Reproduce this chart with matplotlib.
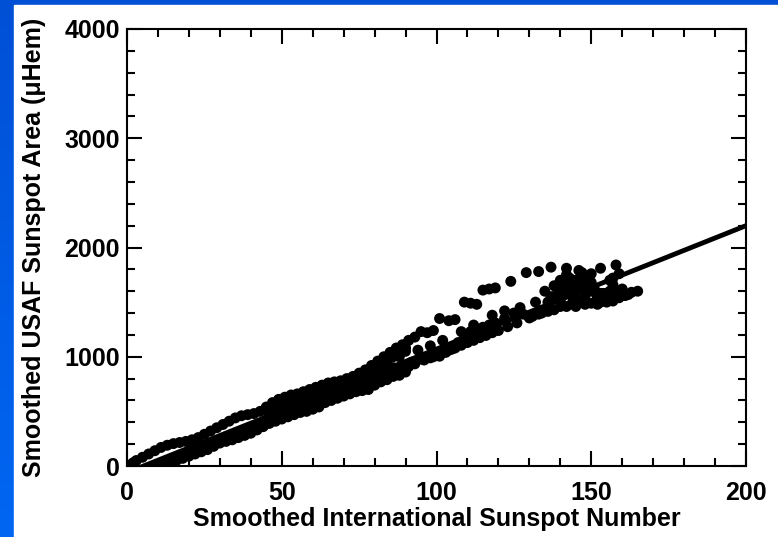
import numpy as np
import matplotlib.pyplot as plt

# Ascending branch (upper arm of the loop)
x_up = [1, 2, 3, 5, 7, 9, 11, 13, 15, 17, 19, 21, 23, 25, 27, 29, 31, 33, 35, 37,
        39, 41, 43, 45, 47, 49, 51, 53, 55, 57, 59, 61, 63, 65, 67, 69, 71, 73, 75,
        77, 79, 81, 83, 85, 87, 89, 91, 93, 95, 97, 99, 101, 104, 106, 109, 111,
        113, 115, 117, 119, 124, 129, 133, 137, 142, 146, 153, 158]
y_up = [10, 30, 50, 80, 110, 140, 170, 190, 205, 215, 225, 240, 260, 290, 320, 350,
        380, 410, 440, 460, 470, 480, 500, 540, 580, 610, 630, 650, 660, 680, 700,
        720, 740, 760, 770, 780, 800, 820, 850, 880, 920, 960, 1000, 1040, 1080,
        1110, 1150, 1180, 1230, 1220, 1240, 1350, 1330, 1340, 1500, 1490, 1480,
        1610, 1620, 1630, 1690, 1770, 1780, 1820, 1810, 1790, 1810, 1840]

# second row of points inside the upper arm
x_up2 = [46, 48, 50, 52, 54, 56, 58, 60, 62, 64, 66, 68, 70, 72, 74, 76,
         78, 80, 82, 84, 86, 88, 90]
y_up2 = [500, 540, 580, 600, 610, 630, 650, 660, 680,
         700, 720, 740, 750, 770, 790, 820, 850, 880, 920, 960, 1000, 1040, 1080]

# Descending branch (lower arm of the loop)
x_dn = [165, 163, 161, 159, 157, 155, 153, 150, 148, 145, 142, 140, 138, 136, 133,
        131, 128, 125, 122, 119, 117, 115, 113, 111, 109, 107, 105, 103, 101, 99,
        97, 95, 92, 90, 88, 86, 84, 82, 80, 78, 76, 74, 72, 70, 68, 66, 64, 62,
        60, 58, 56, 54, 52, 50, 48, 46, 44, 42, 40, 38, 36, 34, 32, 30, 28, 26,
        24, 22, 20, 18, 16, 14, 12, 10]
y_dn = [1600, 1590, 1560, 1540, 1510, 1500, 1500, 1490, 1480, 1460, 1460, 1460,
        1430, 1415, 1390, 1370, 1390, 1400, 1350, 1310, 1290, 1270, 1250, 1230,
        1180, 1130, 1070, 1040, 1005, 1000, 1000, 980, 950, 860, 830, 820, 790,
        770, 740, 700, 690, 680, 660, 640, 620, 600, 580, 540, 520, 500, 490,
        470, 450, 430, 410, 390, 360, 330, 300, 280, 260, 240, 225, 210, 180,
        150, 130, 110, 90, 70, 50, 30, 15, 5]

# points lying just under the fit line
x_dn2 = [11, 13, 15, 17, 19, 21, 23, 25, 27, 29, 31, 33, 35, 37, 39, 41, 43,
         45, 47, 49, 51, 53, 55, 57, 59, 61, 63, 65, 67, 69, 71, 73, 75, 77, 79,
         81, 83, 85, 87, 89, 91, 93, 96, 98, 100, 102, 104, 106, 108, 110, 112,
         114, 116, 118, 120, 123, 126, 130, 134]
y_dn2 = [10, 30, 55, 80, 100, 120, 145, 170, 190, 210, 235, 260, 280, 300, 330,
         350, 370, 390, 415, 440, 460, 485, 505, 530, 550, 575, 595, 620, 640,
         665, 690, 710, 730, 755, 780, 800, 820, 845, 870, 890, 910, 935, 970,
         990, 1015, 1040, 1060, 1080, 1105, 1130, 1150, 1175, 1195, 1220, 1240,
         1275, 1310, 1355, 1400]

# Scattered points between the arms and the cluster near maximum
x_mid = [50, 53, 55, 58, 60, 63, 66, 70, 72, 75, 78, 80, 84, 88, 90, 46, 48, 56,
         62, 68, 74, 82, 86, 94, 98, 102, 108, 112, 118, 122, 127, 132,
         138, 140, 141, 143, 144, 145, 147, 148, 150, 152, 155, 157, 150, 146, 139,
         136, 142, 148, 154, 158, 160, 162,
         135, 137, 139, 141, 143, 145, 146, 149, 151, 153, 156, 144, 140, 152,
         158, 160, 156, 159, 157, 143, 147, 150]
y_mid = [540, 580, 600, 620, 640, 660, 700, 720, 760, 780, 800, 880, 930, 1000,
         1050, 470, 520, 560, 600, 680, 700, 830, 900, 1060, 1100, 1150, 1230,
         1290, 1380, 1420, 1450, 1500,
         1650, 1700, 1600, 1650, 1550, 1700, 1620, 1560, 1600, 1550, 1560, 1660,
         1680, 1520, 1550, 1500, 1750, 1720, 1580, 1580, 1590, 1570,
         1600, 1550, 1620, 1680, 1580, 1620, 1660, 1640, 1620, 1580, 1600, 1500,
         1520, 1480, 1560, 1620, 1700, 1760, 1720, 1720, 1770, 1760]

# Linear fit line
fit_x = [0, 200]
fit_y = [-60, 2200]

fig = plt.figure(figsize=(7.78, 5.37), dpi=100)

# blue slide background with white panel
bg = fig.add_axes([0, 0, 1, 1], zorder=-10)
grad = np.linspace(0, 1, 100).reshape(-1, 1)
bg.imshow(grad, aspect='auto', extent=[0, 1, 0, 1], origin='upper',
          cmap=plt.matplotlib.colors.LinearSegmentedColormap.from_list('b', ['#0050d6', '#0066f2']))
bg.add_patch(plt.Rectangle((14 / 778, 0), 1, (537 - 5) / 537, color='white'))
bg.set_xlim(0, 1)
bg.set_ylim(0, 1)
bg.axis('off')

ax = fig.add_axes([127 / 778, 71 / 537, 619 / 778, 437 / 537])
ax.set_facecolor('none')

for xs, ys in [(x_up, y_up), (x_up2, y_up2), (x_dn, y_dn), (x_dn2, y_dn2), (x_mid, y_mid)]:
    ax.scatter(xs, ys, s=62, c='black', edgecolors='none', zorder=3)
ax.plot(fit_x, fit_y, color='black', lw=3.5, zorder=4)

ax.set_xlim(0, 200)
ax.set_ylim(0, 4000)
ax.set_xticks([0, 50, 100, 150, 200])
ax.set_yticks([0, 1000, 2000, 3000, 4000])
ax.set_xticks(np.arange(0, 201, 10), minor=True)
ax.set_yticks(np.arange(0, 4001, 200), minor=True)

font = {'family': 'Liberation Sans', 'weight': 'bold'}
for lab in ax.get_xticklabels() + ax.get_yticklabels():
    lab.set_fontfamily('Liberation Sans')
    lab.set_fontweight('bold')
    lab.set_fontsize(18)

ax.tick_params(which='both', direction='in', top=True, right=True, width=1.5)
ax.tick_params(axis='x', pad=11)
ax.tick_params(axis='y', pad=5)
ax.tick_params(which='major', length=11)
ax.tick_params(which='minor', length=6)
for sp in ax.spines.values():
    sp.set_linewidth(1.5)

ax.set_xlabel('Smoothed International Sunspot Number', fontsize=18, labelpad=1, **font)
ax.set_ylabel('Smoothed USAF Sunspot Area (\u03bcHem)', fontsize=18, labelpad=13, **font)

fig.savefig('out.png', dpi=100)
